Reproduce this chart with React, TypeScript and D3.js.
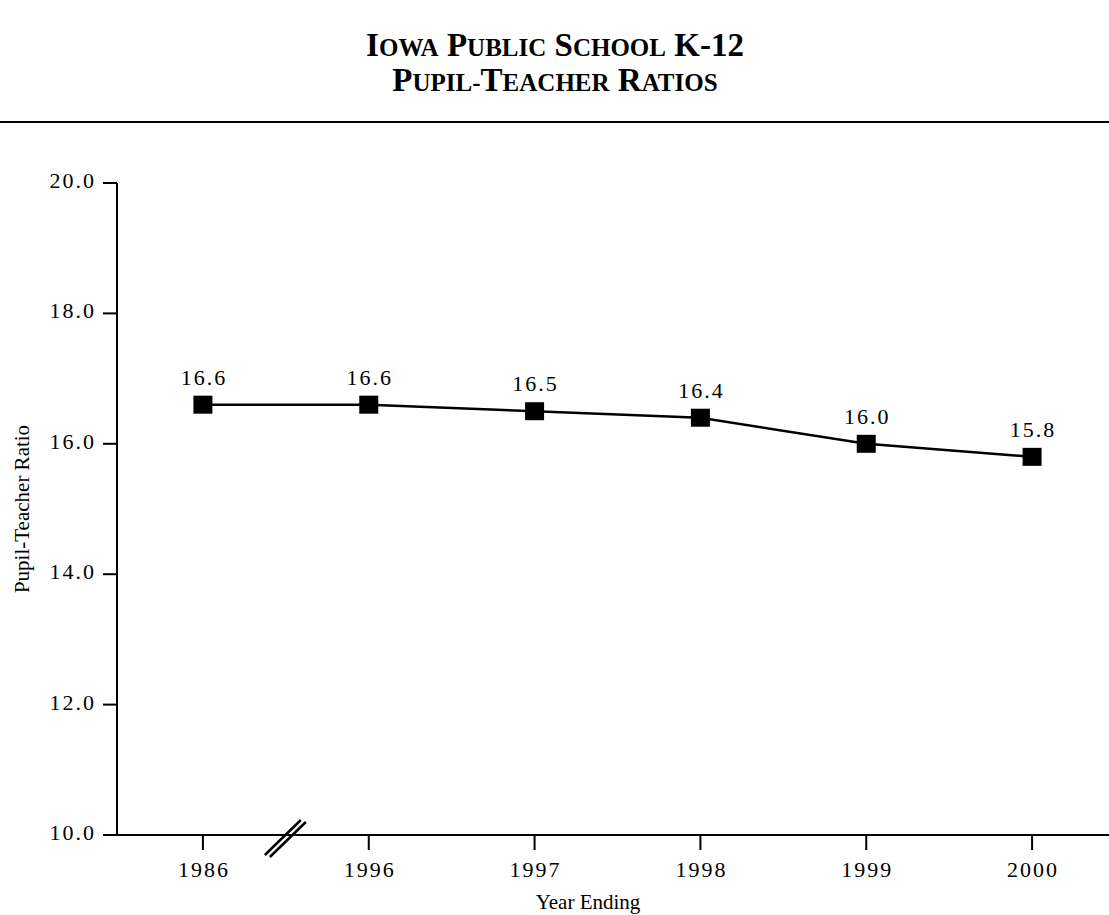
import React from "react";
import * as d3 from "d3";

const years = ["1986", "1996", "1997", "1998", "1999", "2000"];
const ratios = [16.6, 16.6, 16.5, 16.4, 16.0, 15.8];
const yTicks = [10, 12, 14, 16, 18, 20];
// title pieces: [text, isCapital]
const titleLine1: [string, boolean][] = [
  ["I", true], ["OWA", false], [" P", true], ["UBLIC", false],
  [" S", true], ["CHOOL", false], [" K-12", true],
];
const titleLine2: [string, boolean][] = [
  ["P", true], ["UPIL-", false], ["T", true], ["EACHER", false],
  [" R", true], ["ATIOS", false],
];

const W = 1109;
const H = 915;

export default function App() {
  const x = d3.scaleBand<string>().domain(years).range([120, 1115]);
  const cx = (d: string) => (x(d) as number) + x.bandwidth() / 2;
  const y = d3.scaleLinear().domain([10, 20]).range([835, 183]);
  const line = d3
    .line<number>()
    .x((_, i) => cx(years[i]))
    .y((d) => y(d));
  const font = "'Liberation Serif', 'Times New Roman', serif";
  const breakX = (cx(years[0]) + cx(years[1])) / 2;
  const by = y(10);
  const title = [titleLine1, titleLine2];
  return (
    <svg
      width={W}
      height={H}
      style={{ position: "absolute", left: 0, top: 0, background: "#fff" }}
      fontFamily={font}
    >
      {title.map((parts, i) => (
        <text
          key={i}
          x={555}
          y={56 + i * 35}
          textAnchor="middle"
          fontWeight="bold"
          style={{ whiteSpace: "pre" }}
        >
          {parts.map(([t, cap], j) => (
            <tspan key={j} fontSize={cap ? 33 : 25}>
              {t}
            </tspan>
          ))}
        </text>
      ))}
      <line x1={0} x2={W} y1={122} y2={122} stroke="#000" strokeWidth={2} />

      {/* y axis */}
      <line x1={117} x2={117} y1={y(20)} y2={y(10)} stroke="#000" strokeWidth={2} />
      {yTicks.map((t) => (
        <g key={t}>
          <line x1={103} x2={117} y1={y(t)} y2={y(t)} stroke="#000" strokeWidth={2} />
          <text
            x={96}
            y={y(t) + 5}
            textAnchor="end"
            fontSize={22}
            letterSpacing={2}
          >
            {t.toFixed(1)}
          </text>
        </g>
      ))}
      {/* x axis */}
      <line x1={103} x2={W} y1={by} y2={by} stroke="#000" strokeWidth={2} />
      {years.map((yr) => (
        <g key={yr}>
          <line x1={cx(yr)} x2={cx(yr)} y1={by} y2={by + 15} stroke="#000" strokeWidth={2} />
          <text
            x={cx(yr) + 1}
            y={by + 42}
            textAnchor="middle"
            fontSize={22}
            letterSpacing={2}
          >
            {yr}
          </text>
        </g>
      ))}
      {/* break marks */}
      <line x1={breakX - 21} x2={breakX + 15} y1={by + 20} y2={by - 15} stroke="#000" strokeWidth={2.5} />
      <line x1={breakX - 16} x2={breakX + 20} y1={by + 22} y2={by - 13} stroke="#000" strokeWidth={2.5} />

      <text x={588} y={909} textAnchor="middle" fontSize={21}>
        Year Ending
      </text>
      <text
        transform={`translate(29, ${(y(10) + y(20)) / 2}) rotate(-90)`}
        textAnchor="middle"
        fontSize={21}
      >
        Pupil-Teacher Ratio
      </text>

      <path d={line(ratios) || ""} fill="none" stroke="#000" strokeWidth={2.5} />
      {ratios.map((v, i) => (
        <g key={i}>
          <rect x={cx(years[i]) - 9.5} y={y(v) - 9} width={19} height={18} fill="#000" />
          <text
            x={cx(years[i]) + 1}
            y={y(v) - 20}
            textAnchor="middle"
            fontSize={22}
            letterSpacing={2}
          >
            {v.toFixed(1)}
          </text>
        </g>
      ))}
    </svg>
  );
}
